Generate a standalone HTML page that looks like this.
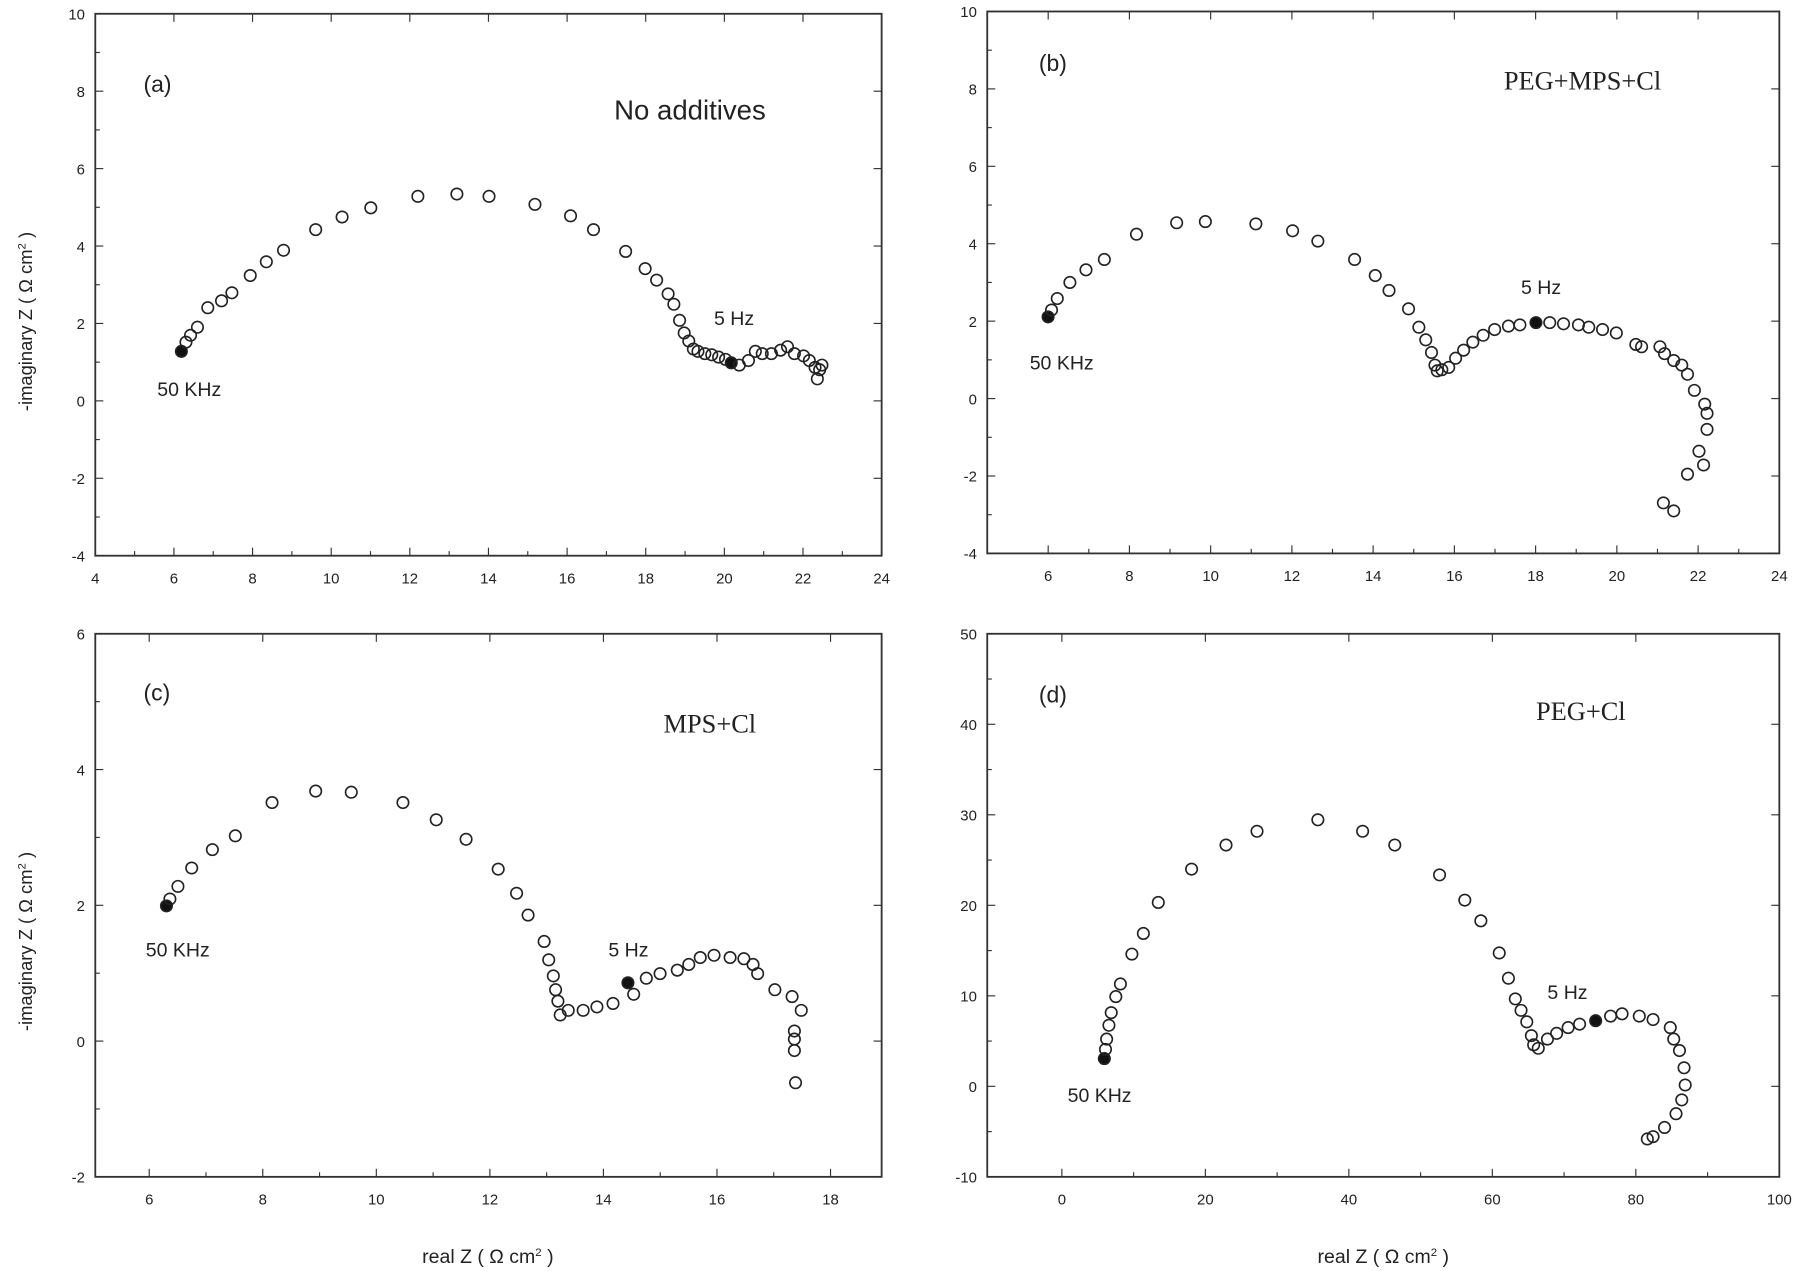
<!DOCTYPE html>
<html><head><meta charset="utf-8"><style>
html,body{margin:0;padding:0;background:#fff}
svg{display:block}
text{font-family:"Liberation Sans",sans-serif;fill:#222}
.s{font-family:"Liberation Serif",serif}
</style></head><body>
<svg id="g" width="1800" height="1271" viewBox="0 0 1568 1107" preserveAspectRatio="none" xmlns="http://www.w3.org/2000/svg"></svg>
<script>
const g=document.getElementById('g');let h='';
function ax(x0,x1,y0,y1,xa,xb,xs,xl,ya,yb,ys){
 h+=`<rect x="${x0}" y="${y0}" width="${x1-x0}" height="${y1-y0}" fill="none" stroke="#333" stroke-width="1.6"/>`;
 const fx=v=>x0+(v-xa)/(xb-xa)*(x1-x0), fy=v=>y1-(v-ya)/(yb-ya)*(y1-y0);
 for(let v=xl;v<=xb+1e-9;v+=xs){const x=fx(v);h+=`<line x1="${x}" y1="${y1}" x2="${x}" y2="${y1-7}" stroke="#333"/><line x1="${x}" y1="${y0}" x2="${x}" y2="${y0+7}" stroke="#333"/><text x="${x}" y="${y1+24}" font-size="13" text-anchor="middle">${v}</text>`;
  const m=fx(v+xs/2);if(m<x1)h+=`<line x1="${m}" y1="${y1}" x2="${m}" y2="${y1-4}" stroke="#333"/>`;}
 for(let v=ya;v<=yb+1e-9;v+=ys){const y=fy(v);h+=`<line x1="${x0}" y1="${y}" x2="${x0+7}" y2="${y}" stroke="#333"/><line x1="${x1}" y1="${y}" x2="${x1-7}" y2="${y}" stroke="#333"/><text x="${x0-9}" y="${y+5}" font-size="13" text-anchor="end">${v}</text>`;
  const m=fy(v+ys/2);if(m>y0)h+=`<line x1="${x0}" y1="${m}" x2="${x0+4}" y2="${m}" stroke="#333"/>`;}
}
ax(83,768,12,484,4,24,2,4,-4,10,2);
ax(860,1550,10,482,4.5,24,2,6,-4,10,2);
ax(83,768,552,1025,5.05,18.9,2,6,-2,6,2);
ax(860,1550,552,1025,-10.4,100,20,0,-10,50,10);
function pts(a,f){a.forEach((p,i)=>{h+=`<circle cx="${p[0]}" cy="${p[1]}" r="5" fill="${f.includes(i)?'#111':'none'}" stroke="#222" stroke-width="1.4"/>`;});}
pts([[158,306],[162,298],[166,292],[172,285],[181,268],[193,262],[202,255],[218,240],[232,228],[247,218],[275,200],[298,189],[323,181],[364,171],[398,169],[426,171],[466,178],[497,188],[517,200],[545,219],[562,234],[572,244],[582,256],[587,265],[592,279],[596,290],[600,297],[604,304],[608,306],[614,308],[620,309],[626,311],[632,313],[637,316],[644,318],[652,314],[658,306],[664,308],[672,308],[680,305],[686,302],[692,308],[700,310],[705,314],[710,320],[712,330],[714,322],[716,318]],[0,33]);
pts([[913,276],[916,270],[921,260],[932,246],[946,235],[962,226],[990,204],[1025,194],[1050,193],[1094,195],[1126,201],[1148,210],[1180,226],[1198,240],[1210,253],[1227,269],[1236,285],[1242,296],[1247,307],[1250,318],[1252,323],[1256,322],[1262,320],[1268,312],[1275,305],[1283,298],[1292,292],[1302,287],[1314,284],[1324,283],[1338,281],[1350,281],[1362,282],[1375,283],[1384,285],[1396,287],[1408,290],[1425,300],[1430,302],[1446,302],[1450,308],[1458,314],[1465,318],[1470,326],[1476,340],[1485,352],[1487,360],[1487,374],[1480,393],[1484,405],[1470,413],[1449,438],[1458,445]],[0,30]);
pts([[145,789],[148,783],[155,772],[167,756],[185,740],[205,728],[237,699],[275,689],[306,690],[351,699],[380,714],[406,731],[434,757],[450,778],[460,797],[474,820],[478,836],[482,850],[484,862],[486,872],[488,884],[495,880],[508,880],[520,877],[534,874],[547,856],[552,866],[563,852],[575,848],[590,845],[600,840],[610,834],[622,832],[636,834],[648,835],[656,840],[660,848],[675,862],[690,868],[698,880],[692,898],[692,905],[692,915],[693,943]],[0,25]);
pts([[962,922],[963,914],[964,905],[966,893],[968,882],[972,868],[976,857],[986,831],[996,813],[1009,786],[1038,757],[1068,736],[1095,724],[1148,714],[1187,724],[1215,736],[1254,762],[1276,784],[1290,802],[1306,830],[1314,852],[1320,870],[1325,880],[1330,890],[1334,902],[1336,910],[1340,913],[1348,905],[1356,900],[1366,895],[1376,892],[1390,889],[1403,885],[1413,883],[1428,885],[1440,888],[1455,895],[1458,905],[1463,915],[1467,930],[1468,945],[1465,958],[1460,970],[1450,982],[1440,990],[1435,992]],[0,31]);
h+=`<text x="125" y="80" font-size="20">(a)</text><text x="535" y="104" font-size="24">No additives</text>
<text x="905" y="62" font-size="20">(b)</text><text x="1310" y="78" font-size="23" class="s">PEG+MPS+Cl</text>
<text x="125" y="610" font-size="20">(c)</text><text x="578" y="638" font-size="23" class="s">MPS+Cl</text>
<text x="905" y="612" font-size="20">(d)</text><text x="1338" y="627" font-size="23" class="s">PEG+Cl</text>
<text x="622" y="283" font-size="17">5 Hz</text><text x="137" y="345" font-size="17">50 KHz</text>
<text x="1325" y="256" font-size="17">5 Hz</text><text x="897" y="322" font-size="17">50 KHz</text>
<text x="530" y="833" font-size="17">5 Hz</text><text x="127" y="833" font-size="17">50 KHz</text>
<text x="1348" y="870" font-size="17">5 Hz</text><text x="930" y="960" font-size="17">50 KHz</text>
<text transform="translate(28,280) rotate(-90)" font-size="16" text-anchor="middle">-imaginary Z ( Ω cm<tspan dy="-6" font-size="10">2</tspan><tspan dy="6"> )</tspan></text>
<text transform="translate(28,820) rotate(-90)" font-size="16" text-anchor="middle">-imaginary Z ( Ω cm<tspan dy="-6" font-size="10">2</tspan><tspan dy="6"> )</tspan></text>
<text x="425" y="1100" font-size="17" text-anchor="middle">real Z ( Ω cm<tspan dy="-6" font-size="10">2</tspan><tspan dy="6"> )</tspan></text>
<text x="1205" y="1100" font-size="17" text-anchor="middle">real Z ( Ω cm<tspan dy="-6" font-size="10">2</tspan><tspan dy="6"> )</tspan></text>`;
g.innerHTML=h;
</script>
</body></html>
